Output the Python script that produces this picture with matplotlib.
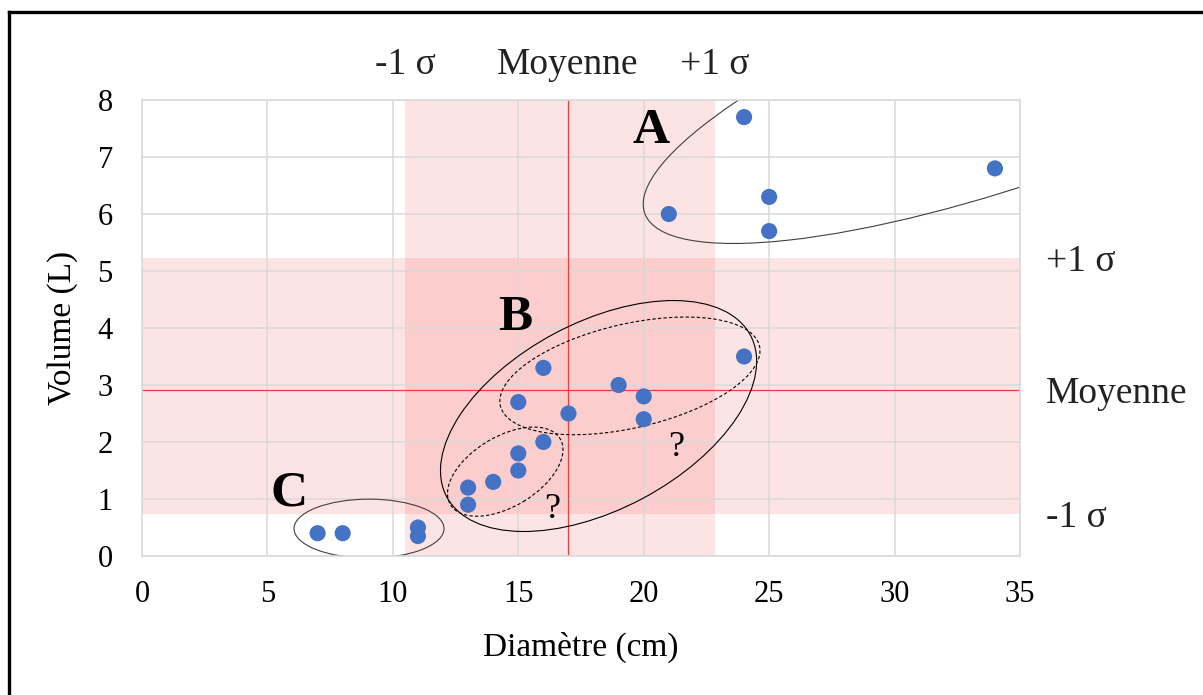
import matplotlib
matplotlib.use("Agg")
import matplotlib.pyplot as plt
from matplotlib.patches import Ellipse
from matplotlib.transforms import Affine2D
from matplotlib.lines import Line2D

plt.rcParams['font.family'] = ['Liberation Serif', 'DejaVu Serif']

# ---- data ----
diametre = [24, 34, 25, 21, 25, 24, 16, 19, 20, 15, 17, 20, 16, 15, 15, 14, 13, 13, 11, 11, 7, 8]
volume = [7.7, 6.8, 6.3, 6.0, 5.7, 3.5, 3.3, 3.0, 2.8, 2.7, 2.5, 2.4, 2.0, 1.8, 1.5, 1.3, 1.2, 0.9, 0.5, 0.35, 0.4, 0.4]

diam_moy, diam_lo, diam_hi = 16.98, 10.48, 22.84
vol_moy, vol_lo, vol_hi = 2.91, 0.74, 5.23

x_ticks = [0, 5, 10, 15, 20, 25, 30, 35]
y_ticks = [0, 1, 2, 3, 4, 5, 6, 7, 8]

group_labels = ['A', 'B', 'C']
group_label_pos = [(20.3, 7.46), (14.87, 4.18), (5.86, 1.09)]
question_pos = [(21.3, 1.91), (16.34, 0.81)]

# ---- figure ----
W, H = 1203, 695
fig = plt.figure(figsize=(W / 100, H / 100), dpi=100)
ax_l, ax_b, ax_w, ax_h = 142 / W, 139 / H, 878 / W, 456 / H
ax = fig.add_axes([ax_l, ax_b, ax_w, ax_h])
ax.set_xlim(0, 35)
ax.set_ylim(0, 8)

band_col = (0.95, 0.3, 0.3)
ax.axvspan(diam_lo, diam_hi, color=band_col, alpha=0.15, lw=0, zorder=0.1)
ax.axhspan(vol_lo, vol_hi, color=band_col, alpha=0.15, lw=0, zorder=0.1)

ax.set_axisbelow(True)
ax.grid(True, color='#D9D9D9', lw=1.1)
for s in ax.spines.values():
    s.set_color('#D9D9D9')
    s.set_linewidth(1.1)

ax.axvline(diam_moy, color='#F03C3C', lw=0.9, zorder=1.5)
ax.axhline(vol_moy, color='#F03C3C', lw=0.9, zorder=1.5)

ax.scatter(diametre, volume, s=135, color='#4472C4', edgecolors='none', zorder=3)

ax.set_xticks(x_ticks)
ax.set_yticks(y_ticks)
ax.tick_params(axis='both', length=0, labelsize=22)
ax.tick_params(axis='x', pad=17)
ax.tick_params(axis='y', pad=21)

ax.set_xlabel('Diamètre (cm)', fontsize=24, va='center')
ax.xaxis.set_label_coords(0.5, -0.1996)
ax.set_ylabel('Volume (L)', fontsize=24, va='center')
ax.yaxis.set_label_coords(-0.0900, 0.5)

# pixel-space ellipses mapped onto data
sx = 878 / 35
sy = 456 / 8

def ellipse(cx, cy, wpx, hpx, ang, ls='-', col='black', lw=0.8):
    e = Ellipse((0, 0), wpx, hpx, angle=ang, fill=False, ec=col, lw=lw, ls=ls,
                transform=Affine2D().scale(1 / sx, 1 / sy).translate(cx, cy) + ax.transData,
                zorder=2)
    ax.add_patch(e)
    e.set_clip_path(ax.patch)
    return e

ellipse(36.15, 8.59, 860, 210, 20, col='#404040')
ellipse(18.2, 2.456, 344, 187, 28)
ellipse(19.45, 3.16, 266, 104, 13, ls=(0, (3, 2)))
ellipse(14.48, 1.48, 128, 70, 31, ls=(0, (3, 2)))
ellipse(9.05, 0.48, 150, 59, 0, col='#404040')

for lab, (x, y) in zip(group_labels, group_label_pos):
    ax.text(x, y, lab, fontsize=37, fontweight='bold', ha='center', va='center', zorder=4)
for (x, y) in question_pos:
    ax.text(x, y, '?', fontsize=26, ha='center', va='center', zorder=4)

# sigma labels
top_y = 8.68
for x, lab in [(diam_lo, '-1 σ'), (diam_moy, 'Moyenne'), (diam_hi, '+1 σ')]:
    ax.text(x, top_y, lab, fontsize=27, ha='center', va='center_baseline', clip_on=False, color='#222222')
right_x = 36.03
for y, lab in [(vol_hi, '+1 σ'), (vol_moy, 'Moyenne'), (vol_lo, '-1 σ')]:
    ax.text(right_x, y, lab, fontsize=27, ha='left', va='center_baseline', clip_on=False, color='#222222')

# outer frame (left and top)
fig.add_artist(Line2D([9 / W, 9 / W], [0, 1 - 11.5 / H], color='black', lw=2.4, transform=fig.transFigure))
fig.add_artist(Line2D([9 / W, 1], [1 - 11.5 / H, 1 - 11.5 / H], color='black', lw=2.4, transform=fig.transFigure))

fig.savefig('out.png', dpi=100)
